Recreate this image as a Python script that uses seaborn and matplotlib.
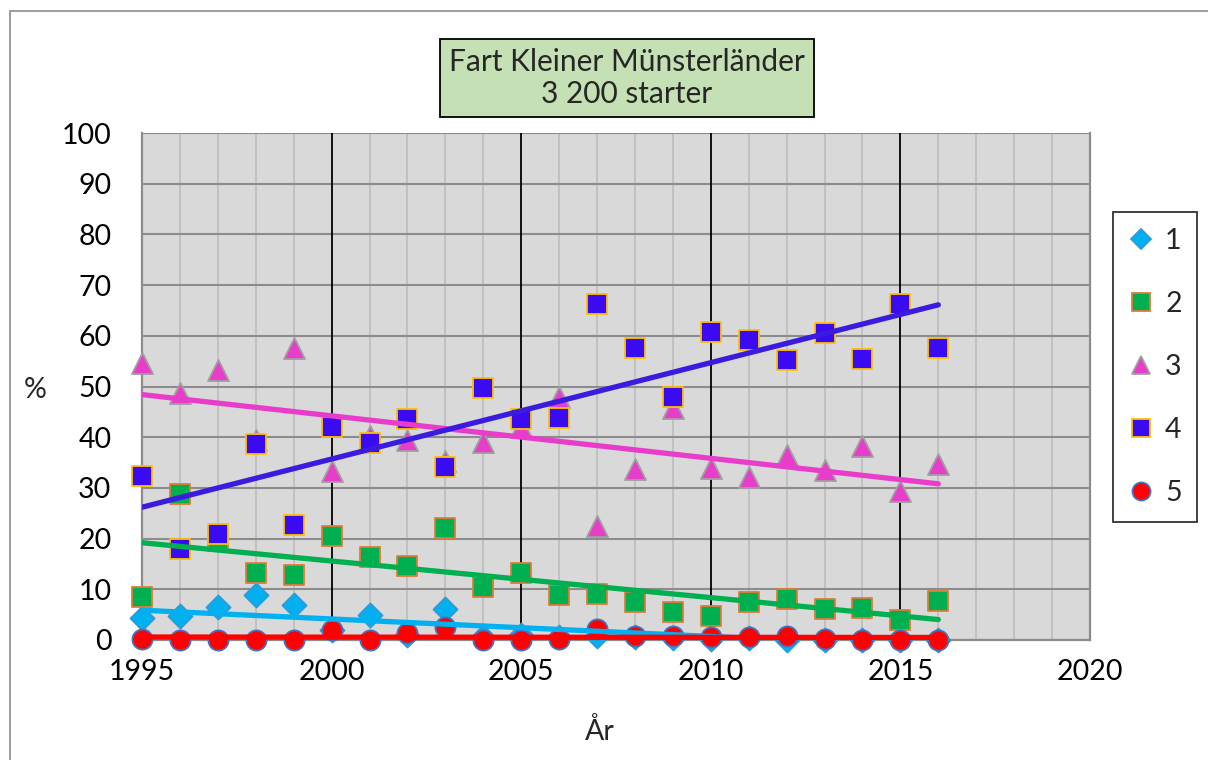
import numpy as np
import pandas as pd
import matplotlib
matplotlib.use("Agg")
import matplotlib.pyplot as plt
from matplotlib.lines import Line2D
from matplotlib.patches import Rectangle
from matplotlib.ticker import MultipleLocator
import seaborn as sns

years = list(range(1995, 2017))
s1 = [4.3, 4.8, 6.6, 8.9, 6.9, 2.0, 4.9, 1.0, 6.1, 0.5, 1.0, 0.5, 0.8, 0.5, 0.3, 0.2, 0.3, 0.0, 0.0, 0.0, 0.0, 0.0]
s2 = [8.5, 28.7, 19.5, 13.3, 12.8, 20.6, 16.4, 14.6, 22.1, 10.5, 13.3, 8.9, 9.1, 7.4, 5.5, 4.7, 7.4, 8.0, 6.2, 6.4, 3.9, 7.6]
s3 = [54.7, 48.7, 53.2, 39.5, 57.6, 33.4, 40.2, 39.5, 35.3, 39.0, 42.0, 47.9, 22.5, 33.7, 45.7, 34.0, 32.2, 36.4, 33.5, 38.2, 29.4, 34.7]
s4 = [32.4, 18.0, 20.9, 38.6, 22.7, 42.1, 38.9, 43.6, 34.2, 49.7, 43.6, 43.8, 66.3, 57.6, 47.9, 60.8, 59.2, 55.2, 60.5, 55.4, 66.3, 57.6]
s5 = [0.1, 0.0, 0.0, 0.0, 0.0, 2.0, 0.0, 1.4, 2.5, 0.0, 0.0, 0.2, 2.2, 0.8, 0.8, 0.6, 0.6, 0.7, 0.1, 0.0, 0.0, 0.0]
series_names = ["1", "2", "3", "4", "5"]
title_text = "Fart Kleiner Münsterländer\n3 200 starter"
x_ticks = [1995, 2000, 2005, 2010, 2015, 2020]
y_ticks = list(range(0, 101, 10))

sns.set_theme(style="white")
plt.rcParams["font.family"] = ["Lato", "DejaVu Sans"]

styles = {
    "1": dict(marker="D", color="#00B0F0", edge="#2E9BD6", size=150, line="#00B0F0"),
    "2": dict(marker="s", color="#00B050", edge="#E07B39", size=210, line="#00B050"),
    "3": dict(marker="^", color="#E83DCB", edge="#A0A0A0", size=230, line="#E83DCB"),
    "4": dict(marker="s", color="#3A0AF0", edge="#FFC000", size=210, line="#3A1BE0"),
    "5": dict(marker="o", color="#FF0000", edge="#4472C4", size=210, line="#FF0000"),
}

df = pd.DataFrame({"year": years * 5,
                   "value": s1 + s2 + s3 + s4 + s5,
                   "series": sum([[n] * len(years) for n in series_names], [])})

W, H = 1208, 760
fig = plt.figure(figsize=(W / 100, H / 100), dpi=100)
ax = fig.add_axes([142 / W, 1 - 640 / H, (1090 - 142) / W, (640 - 133) / H])
ax.set_facecolor("#D9D9D9")

# outer chart border
fig.patches.append(Rectangle((10 / W, -0.05), 1.0, 1.05 - 11 / H, transform=fig.transFigure,
                             fill=False, edgecolor="#8C8C8C", lw=1.2))

for name in series_names:
    st = styles[name]
    sub = df[df["series"] == name]
    sns.scatterplot(data=sub, x="year", y="value", ax=ax, marker=st["marker"], s=st["size"],
                    color=st["color"], edgecolor=st["edge"], linewidth=1.3, zorder=3,
                    clip_on=False, legend=False)

for name in series_names:
    st = styles[name]
    sub = df[df["series"] == name]
    sns.regplot(data=sub, x="year", y="value", ax=ax, scatter=False, ci=None, truncate=True,
                line_kws=dict(color=st["line"], lw=3.8, zorder=4, solid_capstyle="round"))

ax.set_xlim(1995, 2020)
ax.set_ylim(0, 100)
ax.set_xticks(x_ticks)
ax.set_xticklabels([str(t) for t in x_ticks])
ax.set_yticks(y_ticks)
ax.set_yticklabels([str(t) for t in y_ticks])
ax.xaxis.set_minor_locator(MultipleLocator(1))
ax.grid(False)
ax.grid(which="minor", axis="x", color="#BDBDBD", lw=1.2, zorder=0)
ax.grid(which="major", axis="y", color="#8C8C8C", lw=1.5, zorder=0)
for xv in [2000, 2005, 2010, 2015]:
    ax.axvline(xv, color="black", lw=1.3, zorder=1)
ax.set_axisbelow(True)
for sp in ["left", "bottom", "right"]:
    ax.spines[sp].set_color("#8C8C8C")
    ax.spines[sp].set_linewidth(1.6)
ax.spines["top"].set_visible(False)
ax.tick_params(axis="both", which="major", direction="out", length=7, width=1.3,
               color="#8C8C8C", labelsize=20.5, labelcolor="black")
ax.tick_params(axis="y", pad=15)
ax.tick_params(axis="x", pad=7)
ax.tick_params(axis="x", which="minor", length=0)

ax.set_xlabel("År", fontsize=20.5, va="center")
ax.set_ylabel("%", fontsize=20.5, rotation=0, va="center", ha="center")
ax.xaxis.set_label_coords((600 - 142) / 948, (640 - 731) / 507)
ax.yaxis.set_label_coords((35 - 142) / 948, (640 - 390) / 507)

fig.text(627 / W, 1 - 78 / H, title_text, ha="center", va="center", fontsize=21.5,
         linespacing=1.2,
         bbox=dict(boxstyle="square,pad=0.3", facecolor="#C4E0B4", edgecolor="black", lw=1.3))

handles = [Line2D([], [], linestyle="none", marker=styles[n]["marker"],
                  markerfacecolor=styles[n]["color"], markeredgecolor=styles[n]["edge"],
                  markersize=13 if styles[n]["marker"] != "D" else 10, markeredgewidth=1.3)
           for n in series_names]
leg = fig.legend(handles, series_names, loc="center", bbox_to_anchor=(1155 / W, 1 - 367 / H),
                 frameon=True, fancybox=False, fontsize=20.5, labelspacing=1.3,
                 handlelength=0.9, handletextpad=0.4, borderpad=0.55, borderaxespad=0)
leg.get_frame().set_edgecolor("black")
leg.get_frame().set_linewidth(1.3)

fig.savefig("out.png", dpi=100)
